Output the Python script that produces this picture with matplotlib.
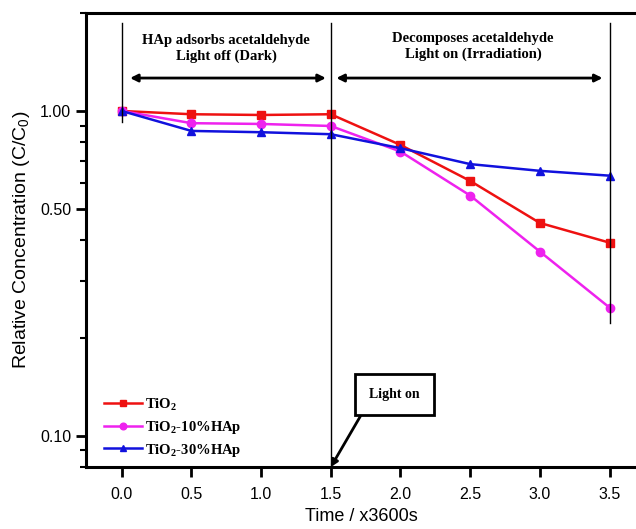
import matplotlib
matplotlib.use("Agg")
import matplotlib.pyplot as plt
from matplotlib.ticker import FixedLocator, LogLocator, NullFormatter

# data
time_h = [0.0, 0.5, 1.0, 1.5, 2.0, 2.5, 3.0, 3.5]
tio2 = [1.0, 0.977, 0.972, 0.977, 0.786, 0.609, 0.452, 0.393]
tio2_10hap = [1.0, 0.917, 0.912, 0.899, 0.750, 0.549, 0.369, 0.248]
tio2_30hap = [1.0, 0.868, 0.860, 0.848, 0.768, 0.686, 0.654, 0.632]

series = [
    ("TiO$_2$", tio2, "#ee1111", "s"),
    ("TiO$_2$-10%HAp", tio2_10hap, "#ee22ee", "o"),
    ("TiO$_2$-30%HAp", tio2_30hap, "#1111dd", "^"),
]

y_ticks = [0.10, 0.50, 1.00]
x_ticks = [0.0, 0.5, 1.0, 1.5, 2.0, 2.5, 3.0, 3.5]

serif = "Liberation Serif"
sans = "Liberation Sans"

# subscripts: serif bold in the legend, sans in the axis label
plt.rcParams["mathtext.fontset"] = "custom"
plt.rcParams["mathtext.rm"] = "Liberation Serif:bold"
plt.rcParams["mathtext.sf"] = "Liberation Sans"

fig = plt.figure(figsize=(6.36, 5.29), dpi=100)
ax = fig.add_axes([0.135, 0.117, 0.865, 0.858])

for label, vals, color, marker in series:
    ax.plot(time_h, vals, color=color, marker=marker, markersize=6,
            linewidth=1.8, label=label)

ax.set_yscale("log")
ax.set_ylim(0.08, 2.0)
ax.set_xlim(-0.257, 3.69)

ax.yaxis.set_major_locator(FixedLocator(y_ticks))
ax.yaxis.set_minor_locator(LogLocator(base=10, subs=range(2, 10)))
ax.yaxis.set_minor_formatter(NullFormatter())
ax.set_yticks(y_ticks)
ax.set_yticklabels(["%.2f" % v for v in y_ticks], fontfamily=sans, fontsize=11.5)
ax.set_xticks(x_ticks)
ax.set_xticklabels(["%.1f" % v for v in x_ticks], fontfamily=sans, fontsize=11.5)

ax.tick_params(axis="both", which="major", direction="out", length=7, width=2)
ax.tick_params(axis="x", which="major", pad=7)
ax.tick_params(axis="y", which="minor", direction="out", length=4, width=1.5)
ax.spines["right"].set_visible(False)
for s in ["left", "top", "bottom"]:
    ax.spines[s].set_linewidth(2.2)

ax.set_ylabel("Relative Concentration (C/C$_\\mathsf{0}$)", fontfamily=sans,
              fontsize=14, labelpad=6)
ax.set_xlabel("Time / x3600s", fontfamily=sans, fontsize=13, labelpad=5)

# phase markers
ax.plot([0, 0], [0.925, 1.865], color="black", linewidth=1)
ax.plot([1.5, 1.5], [0.08, 1.865], color="black", linewidth=1)
ax.plot([3.5, 3.5], [0.223, 1.865], color="black", linewidth=1)

arrow = dict(arrowstyle="<|-|>", color="black", linewidth=2, mutation_scale=11)
ax.annotate("", xy=(0.04, 1.263), xytext=(1.485, 1.263), arrowprops=arrow)
ax.annotate("", xy=(1.52, 1.263), xytext=(3.47, 1.263), arrowprops=arrow)

ax.text(0.75, 1.56, "HAp adsorbs acetaldehyde\nLight off (Dark)", ha="center",
        va="center", fontfamily=serif, fontweight="bold", fontsize=10.5,
        linespacing=1.2)
ax.text(2.52, 1.58, "Decomposes acetaldehyde\nLight on (Irradiation)", ha="center",
        va="center", fontfamily=serif, fontweight="bold", fontsize=10.5,
        linespacing=1.2)

ax.annotate("Light on", xy=(1.5, 0.08), xytext=(1.957, 0.1337),
            ha="center", va="center", fontfamily=serif, fontweight="bold",
            fontsize=10,
            bbox=dict(boxstyle="square,pad=1.0", fc="white", ec="black", lw=2),
            arrowprops=dict(arrowstyle="-|>", color="black", lw=2,
                            mutation_scale=10, relpos=(0, 0),
                            shrinkA=0, shrinkB=0))

leg = ax.legend(loc="lower left", bbox_to_anchor=(0.01, -0.01), frameon=False,
                prop={"family": serif, "weight": "bold", "size": 10.5},
                handlelength=2.6, handletextpad=0.2, labelspacing=0.4,
                markerscale=0.8)

fig.savefig("out.png", dpi=100)
